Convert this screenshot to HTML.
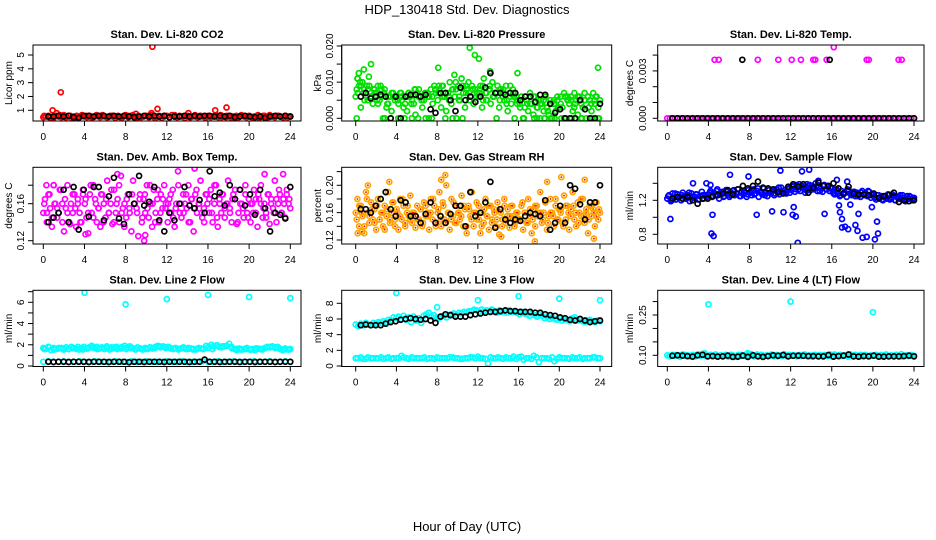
<!DOCTYPE html>
<html><head><meta charset="utf-8"><style>
html,body{margin:0;padding:0;background:#fff;}
svg{display:block;font-family:"Liberation Sans",sans-serif;}
</style></head><body>
<svg id="chart" width="936" height="540" viewBox="0 0 936 540" xmlns="http://www.w3.org/2000/svg">
<text x="467" y="14" text-anchor="middle" font-size="13">HDP_130418  Std. Dev. Diagnostics</text>
<text x="467" y="531" text-anchor="middle" font-size="13">Hour of Day (UTC)</text>
</svg>
<script>
// ---------- data ----------
const xTicks = [0,4,8,12,16,20,24];
// P1 CO2 (ppm)
const co2Red = [0.5,0.55,0.6,0.5,0.45,0.6,0.55,0.5,0.65,0.5,0.6,0.45,0.55,0.6,0.5,0.65,0.55,0.5,0.6,0.45,0.55,0.6,0.5,0.65,0.55,0.5,0.6,0.55,0.45,0.6,0.5,0.55,0.65,0.5,0.6,0.55,0.45,0.6,0.5,0.55,0.6,0.5,0.65,0.55,0.5,0.6,0.45,0.55,0.6,0.5,0.65,0.55,0.5,0.6,0.55,0.45,0.6,0.5,0.55,0.65,0.5,0.6,0.55,0.45,0.6,0.5,0.55,0.6,0.5,0.65,0.55,0.5,0.6,0.45,0.55,0.6,0.5,0.65,0.55,0.5,0.6,0.5,0.55,0.6,0.45,0.55,0.6,0.5,0.65,0.55,0.5,0.6,0.55,0.5,0.6,0.5,0.55];
const co2RedB = [0.6,0.5,0.55,0.65,0.5,0.6,0.5,0.55,0.6,0.5,0.65,0.55,0.5,0.6,0.55,0.5,0.6,0.65,0.5,0.55,0.6,0.5,0.55,0.6,0.5,0.65,0.55,0.6,0.5,0.55,0.6,0.5,0.55,0.65,0.5,0.6,0.55,0.5,0.6,0.55,0.5,0.65,0.6,0.5,0.55,0.6,0.5,0.55];
const co2OutHours = [0.9,1.3,1.7,10.6,11.1,14.1,16.7,17.8,9.0,10.5];
const co2OutVals = [1.0,0.8,2.3,5.6,1.1,0.8,1.0,1.2,0.75,0.8];
const co2Black = [0.55,0.55,0.6,0.55,0.6,0.5,0.45,0.6,0.6,0.55,0.6,0.6,0.55,0.6,0.55,0.6,0.55,0.5,0.55,0.6,0.55,0.6,0.55,0.6,0.5,0.55,0.55,0.6,0.55,0.6,0.55,0.6,0.6,0.55,0.6,0.55,0.6,0.5,0.55,0.6,0.55,0.5,0.55,0.45,0.55,0.6,0.55,0.6,0.55];
// P2 Pressure (1e-3 kPa)
const presGreen = [6,11,9,3,10,8,7,5,9,6,4,8,7,9,5,6,0,8,3,4,6,2,7,5,6,4,7,5,3,6,2,7,6,5,4,1,7,8,6,3,5,0,7,6,8,4,9,7,5,8,3,9,6,2,7,10,4,8,6,0,9,5,11,7,3,8,10,6,9,4,8,7,6,9,3,11,7,5,8,4,10,6,7,9,3,8,6,5,9,2,7,4,8,0,6,5,4,6,0,3,5,2,7,4,1,6,3,5,0,4,2,6,3,1,5,0,4,2,5,3,6,3,7,0,5,4,6,2,7,5,1,6,4,3,7,0,6,5,2,7,4,6,3,5];
const presGreenB = [8,10,7,9,6,8,5,9,7,4,0,6,5,7,0,6,4,8,0,5,7,6,0,8,7,9,0,6,8,10,5,0,9,7,8,6,8,5,7,9,6,0,8,7,5,9,6,4,5,0,4,6,0,3,5,0,2,4,0,3,0,6,5,0,4,6,0,5,3,0,6,0];
const presGreenC = [7,9,5,8,6,7,4,8,0,6,7,5,0,6,4,7,0,8,6,5,7,0,6,8,9,6,7,5,0,8,6,9,7,5,8,6,7,9,5,8,6,7,5,8,4,6,7,5,3,0,5,4,6,0,4,5,3,0,5,6,4,0,6,5,3,6,0,5,6,4,5,0];
const presOutHours = [0.2,0.3,0.8,1.5,1.3,8.1,11.2,11.7,12.1,23.8,13.2,9.7,15.9,0.1];
const presOutVals = [11,12.5,13.5,15,11.5,14,19.5,17.5,16.5,14,13,12,12.5,0];
const presBlack = [6,7,5.5,6,6.5,6,0,6,0,6,6.5,6.5,6,6.5,2.5,1.5,7,7,5,2,8.5,5,6,4.5,6,8.5,12.5,7,7,6.5,7,7,5,6,6,4.5,6.5,6.5,4,1.5,2.5,0,0,0,5,2.5,0,0,4];
// P3 Li-820 temp (1e-3 C)
const tempMag = [0,0,0,0,0,0,0,0,0,0,0,0,0,0,0,0,0,0,0,0,0,0,0,0,0,0,0,0,0,0,0,0,0,0,0,0,0,0,0,0,0,0,0,0,0,0,0,0,0,0,0,0,0,0,0,0,0,0,0,0,0,0,0,0,0,0,0,0,0,0,0,0,0,0,0,0,0,0,0,0,0,0,0,0,0,0,0,0,0,0,0,0,0,0,0,0,0];
const tempHighHours = [4.6,5.0,8.8,10.8,12.1,13.0,14.2,14.4,15.5,16.2,19.4,19.6,22.5,22.8];
const tempHighVals = [3.7,3.7,3.7,3.7,3.7,3.7,3.7,3.7,3.7,4.5,3.7,3.7,3.7,3.7];
const tempBlack = [0,0,0,0,0,0,0,0,0,0,0,0,0,0,0,0,0,0,0,0,0,0,0,0,0,0,0,0,0,0,0,0,0,0,0,0,0,0,0,0,0,0,0,0,0,0,0,0,0];
const tempBlackHighHours = [7.3,15.8];
const tempBlackHighVals = [3.7,3.7];
// P4 Amb box temp (0.01 C)
const ambMag = [15,16.5,14,17,15.5,13.5,18,16,14.5,15,17.5,16,13,15.5,18,14,16,15,17,13.5,16.5,15,14,17.5,16,14.5,12.8,17,15,18,16.5,14,15.5,13.5,17,16,14.5,18.5,15,16,13.8,17.5,15,16.5,14,19,15.5,16,14.5,17,15,13,18.5,16,15.5,12.5,17,14,16.5,15,18,14.5,16,13.5,17.5,15,16.5,14,17,15.5,18,16,14,16.5,15,17.5,13.5,16,19.5,15,14.5,17,16,15.5,18,14,16.5,13,17,15,16,18.5,14.5,15.5,17,16,15,17.5,14,16,18,13.5,16.5,15,17,14.5,16,18.5,15.5,14,17,16.5,13.8,15,17.5,16,14.5,18,15,16.5,14,16,17.5,15,13.5,16.5,18,14.5,16,15,17,13.8,16.5,15.5,18.5,14,16,17,15,16.5,14.5,17.5,16,15.5];
const ambMagB = [16,15,17,14.5,16,15.5,17.5,14,16.5,15,13.8,17,15.5,16,14,17,16.5,15,18,14.5,16,15.5,17,14,16.5,15,17.5,14,16,18,15,13.5,16.5,15.5,17,16,15,16.5,14.5,17,15.5,18,16,14,17.5,15,16.5,15.5,16,17,14.5,15.5,18,16,15,17,14,16.5,15.5,17.5,16,15,14,17,16.5,15,18,14.5,16,17,15.5,16,15,16.5,17.5,14,16,15.5,17,14.5,16,15,16.5,17,16,15.5,14.5,17,16,15,16.5,17.5,15,16,17,16.5];
const ambOutHours = [9.8,9.9,4.1,7.2,14.7,21.5,23.3,0.3,1.0];
const ambOutVals = [12,12.6,12.7,19.2,19.8,19.2,19.2,18,18];
const ambBlack = [14,14.5,15,17.5,14,17.8,13.2,17.5,14.6,17.8,17.8,14.2,16.8,18.8,14.4,13.8,17,16,19,15.8,16.2,17.8,14.2,13,15,14.2,16,17.8,15.8,15.5,16.4,15,19.5,16.8,17.2,15.8,18,16.5,17.5,15.8,17,14.8,17.5,15.5,13,15,14.8,14.4,17.8];
// P5 Gas stream RH (0.01 %)
const rhOrange = [16,18,14,17,15.5,13,19,16,14.5,17.5,15,16.5,13.5,18,15,16,14,17,15.5,19,14.5,16,17.5,15,16.5,13.5,18,15,17,14,16,15.5,18.5,14.5,16,13.8,17,15,16.5,14,17.5,15.5,16,13.5,18,15,17,14.5,16,19,14,17.5,15,20,16,13.5,18,15.5,14.5,17,16,15,18.5,14,16.5,13,17,15.5,19,14,16,15,17,13,16,14.5,18,15.5,13.5,17,15,16.5,14,17.5,12.8,16,15,18,14.5,16.5,13.8,17,15.5,14,16,15,15,17,13.5,16,14.5,18,15.5,13,16.5,14,17,15.5,19,14.5,16,17.5,13.5,15.5,18,16,14,17,15,16.5,16,14.5,18.5,15,17,13.5,16.5,19,15,14,17.5,16,15.5,18,14.5,16,13,17,15.5,16.5,14,17.5,15,16];
const rhOrangeB = [15,17,16,14,18,15.5,16.5,14.5,17,15,16,13.5,16.5,15,17.5,14,16,15.5,18,14.5,17,15,16,15.5,15,16.5,14.5,17,15.5,16,18,14,16.5,15,17,14.5,16,15,17.5,14.5,16,15.5,17,14,16.5,15,16,17.5,15,14,16.5,15.5,17,14.5,16,15,16.5,14,17,15.5,15.5,17,14.5,16,15,17.5,16,14.5,16.5,15,17,16,16,15,17.5,14.5,16,15.5,18,15,16.5,14,17,16,15.5,17,16,14.5,18,15.5,16.5,15,17,16,15.5,16.5];
const rhOutHours = [8.8,8.4,20.2,22.5,3.3,17.6,23.4,14.3,0.2,1.2,18.8,0.6];
const rhOutVals = [21.5,20.8,21.2,20.8,20.5,11.8,12.2,12.5,13,20,20.5,13.2];
const rhBlack = [16.5,16.5,16,17,18,19,16.5,15.5,17.8,17.5,15.5,15.5,14.5,15.8,17.5,14.5,15.5,14.5,15.8,17,17,14,19,15.5,16,17.5,20.5,13.8,16.5,15,14.5,15,14.8,15.5,16,15.8,15.5,17.8,13.5,14.5,17,14.5,20,19.5,17.2,15,17.5,17.5,20];
// P6 Sample flow (0.01 ml/min)
const flowBlue = [122,126,119,128,123,121,127,124,120,129,125,122,126,119,128,123,124,127,121,125,130,122,126,124,127,131,124,129,126,133,122,128,130,125,132,127,124,129,131,126,128,133,125,130,127,129,124,132,129,126,133,128,131,124,130,127,134,129,125,132,128,131,126,133,129,127,135,130,132,128,134,129,132,136,130,138,133,131,137,134,129,139,135,132,137,133,140,131,136,134,130,138,133,136,131,135,130,127,133,128,125,131,127,129,124,132,128,126,130,125,129,127,124,131,126,128,125,130,123,127,124,121,126,122,125,120,124,122,127,121,123,125,120,124,122,126,121,123,119,125,122,124,120,123];
const flowBlueB = [125,120,128,123,126,122,129,124,127,121,126,124,129,125,131,127,124,130,126,132,128,125,131,127,131,127,134,129,126,132,130,128,135,131,129,133,137,133,139,135,132,138,134,136,131,137,133,135,128,131,126,129,133,127,130,125,129,127,131,126,123,126,121,125,122,127,120,124,126,121,125,122];
const flowOutHours = [0.3,4.3,4.5,4.4,3.8,4.2,2.5,6.1,8.7,10.2,11,11.3,12.2,12.5,12.7,12.3,13.8,15.3,16.8,17,17,17.3,17.6,18.3,18.5,18.6,19.4,19,20.2,20.4,20.5,17.8,16.7,19.9,14.7,16.5,17.5,13.1,7.9];
const flowOutVals = [98,81,78,103,140,138,140,150,103,107,155,106,103,101,70,112,156,104,106,98,88,89,86,91,84,104,77,76,74,95,81,115,114,112,143,144,142,154,148];
const flowBlack = [122,124,122,124,120,116,122,122,125,126,128,132,127,133,137,134,137,142,135,134,133,130,128,136,139,136,139,129,135,141,137,137,140,134,128,136,128,127,127,126,128,123,125,126,129,118,120,119,120];
// P7 Line 2 flow (ml/min)
const l2Band = [1.7,1.6,1.8,1.5,1.7,1.6,1.65,1.7,1.55,1.75,1.6,1.8,1.7,1.6,1.55,1.7,1.8,1.65,1.75,1.9,1.7,1.8,1.65,1.75,1.6,1.7,1.55,1.65,1.75,1.6,1.7,1.8,1.9,1.75,1.85,1.7,1.6,1.75,1.65,1.55,1.7,1.6,1.75,1.65,1.8,1.9,1.75,1.85,1.7,1.8,1.65,1.6,1.7,1.55,1.65,1.75,1.6,1.7,1.65,1.6,1.55,1.7,1.65,1.6,1.9,1.8,2.0,1.85,1.95,1.8,1.75,1.85,1.9,2.1,1.7,1.6,1.5,1.65,1.55,1.6,1.7,1.55,1.6,1.5,1.65,1.6,1.55,1.7,1.8,1.75,1.85,1.7,1.8,1.6,1.5,1.65,1.55,1.6];
const l2BandB = [1.6,1.75,1.55,1.7,1.65,1.6,1.7,1.8,1.55,1.65,1.75,1.6,1.7,1.85,1.75,1.8,1.65,1.6,1.7,1.55,1.65,1.6,1.75,1.7,1.85,1.8,1.75,1.65,1.6,1.7,1.6,1.55,1.65,1.6,1.7,1.6,1.95,1.85,1.9,1.8,1.6,1.55,1.6,1.55,1.65,1.6,1.7,1.8,1.75,1.65,1.6,1.55];
const l2Low = [0.4,0.45,0.4,0.4,0.45,0.4,0.4,0.45,0.4,0.4,0.45,0.4,0.4,0.4,0.45,0.4,0.4,0.45,0.4,0.4,0.45,0.4,0.4,0.4,0.45,0.4,0.4,0.45,0.4,0.4,0.4,0.45,0.4,0.4,0.45,0.4,0.4,0.45,0.4,0.4,0.4,0.45,0.4,0.4,0.45,0.4,0.4,0.45,0.4];
const l2OutHours = [4,8,12,16,20,24];
const l2OutVals = [6.9,5.8,6.3,6.7,6.5,6.4];
const l2Black = [0.4,0.38,0.4,0.4,0.38,0.4,0.4,0.4,0.38,0.4,0.4,0.4,0.38,0.4,0.4,0.4,0.35,0.4,0.4,0.38,0.4,0.4,0.4,0.38,0.4,0.4,0.4,0.4,0.38,0.4,0.4,0.6,0.4,0.4,0.38,0.4,0.4,0.4,0.38,0.4,0.4,0.38,0.4,0.4,0.4,0.38,0.4,0.4,0.4];
// P8 Line 3 flow
const l3Black = [5.2,5.3,5.2,5.2,5.2,5.4,5.6,5.7,5.9,6.0,6.1,6.0,5.9,6.0,5.8,5.5,6.3,6.6,6.5,6.3,6.3,6.3,6.5,6.6,6.7,6.8,6.9,6.9,7.0,7.1,7.0,7.0,6.9,6.9,6.9,6.8,6.8,6.6,6.5,6.4,6.2,6.1,5.9,5.8,6.0,5.8,5.6,5.7,5.8];
const l3Band = [5.3,5.1,5.4,5.2,5.5,5.3,5.2,5.5,5.4,5.6,5.5,5.7,5.6,5.9,5.8,6.2,6.1,6.3,6.0,6.4,5.9,6.2,5.6,6.3,5.8,6.1,5.5,6.4,6.6,6.8,6.3,6.5,6.2,6.1,6.3,6.4,6.2,6.5,6.6,6.7,6.5,6.8,6.7,6.9,6.8,7.0,7.0,7.2,7.1,6.9,7.2,7.0,7.1,6.9,7.2,7.0,6.8,7.1,6.9,7.0,6.8,7.1,6.9,7.0,6.8,6.6,6.9,6.7,6.6,6.4,6.7,6.5,6.3,6.6,6.4,6.1,6.3,6.0,6.2,6.0,5.9,6.1,5.8,6.0,5.9,5.7,6.1,6.2,5.8,6.0,5.7,5.6,5.8,5.9,5.7,5.6,5.8,5.7];
const l3Low = [1.0,1.1,0.9,1.0,1.0,1.1,1.0,0.9,1.0,1.3,1.0,1.1,1.0,1.0,0.9,1.0,1.1,1.0,1.0,1.1,1.0,0.9,1.0,1.1,1.2,1.0,0.3,1.0,1.1,0.9,1.0,1.2,1.1,0.8,1.0,1.3,0.5,1.0,0.9,0.6,1.1,1.0,0.9,1.0,1.1,1.0,1.0,1.1,1.0];
const l3LowB = [1.0,0.9,1.1,1.0,1.0,0.9,1.1,1.0,1.0,1.1,0.9,1.0,1.0,1.1,1.0,0.9,1.0,1.0,1.1,1.0,0.9,1.0,1.1,1.0,1.0,0.9,1.1,1.0,1.0,1.1,1.0,0.9,1.2,1.0,0.9,1.1,1.0,1.0,1.1,0.9,1.0,1.0,1.1,1.0,0.9,1.0,1.1,1.0];
const l3OutHours = [4,8,12,16,20,24];
const l3OutVals = [9.3,7.5,8.4,8.9,8.6,8.4];
// P9 Line 4 flow (0.01 ml/min)
const l4Band = [10,9.6,10.2,9.8,10.1,9.5,10.3,9.9,10,9.7,10.2,9.6,10.4,9.8,10,10.5,9.7,10.1,9.9,10.3,9.6,10,9.8,10.2,9.5,10.1,9.9,9.4,10.2,9.8,10,9.7,10.3,10.5,9.6,10.1,9.9,10.2,9.7,10,9.8,10.3,9.6,10.1,10,9.8,10.4,9.7,10.2,9.9,10,9.6,10.1,9.8,10.3,9.7,10,9.5,10.2,9.9,10.1,9.7,10,9.8,10.3,9.6,10.1,9.9,10.2,9.7,10,9.5,10.3,9.8,10,9.6,10.2,9.9,10.1,9.7,10,9.8,10.2,9.6,10.1,9.9,10.3,9.7,10,9.8,10.2,9.6,10.4,9.9,10,9.7,10.1,9.8];
const l4BandB = [9.7,10.1,9.9,10.2,9.6,10,10.3,9.8,10.1,9.7,10,9.9,10.2,9.6,10.1,9.8,10,10.3,9.7,9.9,10.2,9.6,10,9.8,10.1,9.7,10.2,9.9,10,9.6,10.1,9.8,10.3,9.7,10,9.9,10.2,9.6,10.1,9.8,10,9.7,10.2,9.9,10.1,9.6,10,9.8];
const l4OutHours = [4,12,20,7.8,3.6];
const l4OutVals = [29,30,26,10.8,10.8];
const l4Black = [9.8,10,9.9,9.7,9.5,10,10.2,9.6,9.7,9.5,9.6,9.9,9.4,9.5,9.9,9.4,10,9.6,9.4,9.7,10,9.8,10.1,9.6,9.8,9.9,9.8,9.7,9.7,9.6,9.6,10.1,9.5,9.7,9.9,10.3,9.6,9.5,9.7,9.6,9.9,9.5,9.5,9.6,9.6,9.6,9.7,9.9,9.6];

// ---------- layout ----------
const NS = 'http://www.w3.org/2000/svg';
const svg = document.getElementById('chart');
function mk(tag, attrs, parent){const e=document.createElementNS(NS,tag);for(const k in attrs)e.setAttribute(k,attrs[k]);(parent||svg).appendChild(e);return e;}

const cols = [{bx0:33,bx1:301,h0:43.3,h24:290.3,ylab:12,tl:24},{bx0:341.7,bx1:611.7,h0:355.7,h24:600,ylab:321,tl:333},{bx0:657.7,bx1:924,h0:667.3,h24:914,ylab:633,tl:646}];
const rows = [{by0:45,by1:121},{by0:167.3,by1:244},{by0:290.3,by1:366.5}];

function panel(ci, ri, name, title, ylabel, v0, y0, v1, y1, ticks, tickLabels, series){
  const c = cols[ci], r = rows[ri];
  const g = mk('g', {});
  
  
  const xs = h => c.h0 + (h/24)*(c.h24-c.h0);
  const ys = v => y0 + (v - v0)*(y1 - y0)/(v1 - v0);
  const clip = 'clip-'+name;
  const cp = mk('clipPath', {id:clip}, g);
  mk('rect', {x:c.bx0, y:r.by0, width:c.bx1-c.bx0, height:r.by1-r.by0}, cp);
  const pts = mk('g', {'clip-path':'url(#'+clip+')'}, g);
  series.forEach(s => {
    const sg = mk('g', {}, pts);
    
    
    s.vals.forEach((v,i) => {
      const h = s.hours ? s.hours[i] : (s.start + i*(s.end - s.start)/(s.vals.length-1));
      const cx = xs(h), cy = ys(v);
      const pt = mk('circle', {cx:cx.toFixed(1), cy:cy.toFixed(1), r:2.5, fill:'none', stroke:s.color, 'stroke-width':1.7}, sg);
      
      
      if (s.inner) mk('circle', {cx:cx.toFixed(1), cy:cy.toFixed(1), r:0.9, fill:s.inner}, sg);
    });
  });
  const box = mk('rect', {x:c.bx0, y:r.by0, width:c.bx1-c.bx0, height:r.by1-r.by0, fill:'none', stroke:'#000', 'stroke-width':1}, g);
  
  
  const t = mk('text', {x:(c.bx0+c.bx1)/2, y:r.by0-7, 'text-anchor':'middle', 'font-size':11, 'font-weight':'bold'}, g);
  t.textContent = title;
  
  
  const xa = mk('g', {}, g);
  
  
  mk('line', {x1:xs(0), x2:xs(24), y1:r.by1, y2:r.by1, stroke:'#000'}, xa);
  xTicks.forEach(h => {
    mk('line', {x1:xs(h), x2:xs(h), y1:r.by1, y2:r.by1+5, stroke:'#000'}, xa);
    const tl = mk('text', {x:xs(h), y:r.by1+19, 'text-anchor':'middle', 'font-size':10}, xa);
    tl.textContent = h;
  });
  const ya = mk('g', {}, g);
  
  
  mk('line', {x1:c.bx0, x2:c.bx0, y1:ys(ticks[0]), y2:ys(ticks[ticks.length-1]), stroke:'#000'}, ya);
  ticks.forEach((v,i) => {
    const y = ys(v);
    mk('line', {x1:c.bx0-5, x2:c.bx0, y1:y, y2:y, stroke:'#000'}, ya);
    if (tickLabels[i]) {
      const tl = mk('text', {x:c.tl, y:y, 'text-anchor':'middle', 'font-size':10, transform:'rotate(-90 '+c.tl+' '+y+')'}, ya);
      tl.textContent = tickLabels[i];
    }
  });
  const ym = (r.by0+r.by1)/2;
  const yl = mk('text', {x:c.ylab, y:ym, 'text-anchor':'middle', 'font-size':10, transform:'rotate(-90 '+c.ylab+' '+ym+')'}, g);
  yl.textContent = ylabel;
  
  
}

const RED='#ff0000', GRN='#00e000', MAG='#ff00ff', ORG='#ffa500', BLU='#0000ff', CYN='#00ffff', BLK='#000000';

panel(0,0,'co2-panel','Stan. Dev. Li-820 CO2','Licor ppm',1,110.3,5,55,[1,2,3,4,5],['1','2','3','4','5'],[
 {name:'co2-red',vals:co2Red,start:0,end:24,color:RED},
 {name:'co2-red-b',vals:co2RedB,start:0.1,end:23.9,color:RED},
 {name:'co2-red-outliers',vals:co2OutVals,hours:co2OutHours,color:RED},
 {name:'co2-black',vals:co2Black,start:0.5,end:24,color:BLK}]);
panel(1,0,'pressure-panel','Stan. Dev. Li-820 Pressure','kPa',0,118.3,20,46,[0,5,10,15,20],['0.000','','0.010','','0.020'],[
 {name:'pressure-green',vals:presGreen,start:0,end:24,color:GRN},
 {name:'pressure-green-b',vals:presGreenB,start:0.1,end:23.9,color:GRN},
 {name:'pressure-green-c',vals:presGreenC,start:0.2,end:23.8,color:GRN},
 {name:'pressure-green-outliers',vals:presOutVals,hours:presOutHours,color:GRN},
 {name:'pressure-black',vals:presBlack,start:0.5,end:24,color:BLK}]);
panel(2,0,'temp-panel','Stan. Dev. Li-820 Temp.','degrees C',0,118.3,3,70.9,[0,1,2,3,4],['0.000','','','0.003',''],[
 {name:'temp-magenta',vals:tempMag,start:0,end:24,color:MAG},
 {name:'temp-magenta-high',vals:tempHighVals,hours:tempHighHours,color:MAG},
 {name:'temp-black',vals:tempBlack,start:0.5,end:24,color:BLK},
 {name:'temp-black-high',vals:tempBlackHighVals,hours:tempBlackHighHours,color:BLK}]);
panel(0,1,'ambbox-panel','Stan. Dev. Amb. Box Temp.','degrees C',12,240.7,16,203.7,[12,14,16,18],['0.12','','0.16',''],[
 {name:'ambbox-magenta',vals:ambMag,start:0,end:24,color:MAG},
 {name:'ambbox-magenta-b',vals:ambMagB,start:0.1,end:23.9,color:MAG},
 {name:'ambbox-magenta-outliers',vals:ambOutVals,hours:ambOutHours,color:MAG},
 {name:'ambbox-black',vals:ambBlack,start:0.5,end:24,color:BLK}]);
panel(1,1,'rh-panel','Stan. Dev. Gas Stream RH','percent',12,240,20,185.3,[12,14,16,18,20,22],['0.12','','0.16','','0.20',''],[
 {name:'rh-orange',vals:rhOrange,start:0,end:24,color:ORG,inner:RED},
 {name:'rh-orange-b',vals:rhOrangeB,start:0.1,end:23.9,color:ORG,inner:RED},
 {name:'rh-orange-outliers',vals:rhOutVals,hours:rhOutHours,color:ORG,inner:RED},
 {name:'rh-black',vals:rhBlack,start:0.5,end:24,color:BLK}]);
panel(2,1,'sampleflow-panel','Stan. Dev. Sample Flow','ml/min',120,200.3,80,234.3,[80,100,120,140],['0.8','','1.2',''],[
 {name:'sampleflow-blue',vals:flowBlue,start:0,end:24,color:BLU},
 {name:'sampleflow-blue-b',vals:flowBlueB,start:0.1,end:23.9,color:BLU},
 {name:'sampleflow-blue-outliers',vals:flowOutVals,hours:flowOutHours,color:BLU},
 {name:'sampleflow-black',vals:flowBlack,start:0.5,end:24,color:BLK}]);
panel(0,2,'line2-panel','Stan. Dev. Line 2 Flow','ml/min',0,366,6,302.3,[0,1,2,3,4,5,6,7],['0','','2','','4','','6',''],[
 {name:'line2-cyan-band',vals:l2Band,start:0,end:24,color:CYN},
 {name:'line2-cyan-band-b',vals:l2BandB,start:0.1,end:23.9,color:CYN},
 {name:'line2-cyan-low',vals:l2Low,start:0,end:24,color:CYN},
 {name:'line2-cyan-outliers',vals:l2OutVals,hours:l2OutHours,color:CYN},
 {name:'line2-black',vals:l2Black,start:0.5,end:24,color:BLK}]);
panel(1,2,'line3-panel','Stan. Dev. Line 3 Flow','ml/min',0,366,8,303.3,[0,2,4,6,8],['0','2','4','6','8'],[
 {name:'line3-cyan-band',vals:l3Band,start:0,end:24,color:CYN},
 {name:'line3-cyan-low',vals:l3Low,start:0,end:24,color:CYN},
 {name:'line3-cyan-low-b',vals:l3LowB,start:0.2,end:23.8,color:CYN},
 {name:'line3-cyan-outliers',vals:l3OutVals,hours:l3OutHours,color:CYN},
 {name:'line3-black',vals:l3Black,start:0.5,end:24,color:BLK}]);
panel(2,2,'line4-panel','Stan. Dev. Line 4 (LT) Flow','ml/min',10,355.3,25,315,[10,15,20,25,30],['0.10','','','0.25',''],[
 {name:'line4-cyan-band',vals:l4Band,start:0,end:24,color:CYN},
 {name:'line4-cyan-band-b',vals:l4BandB,start:0.2,end:23.8,color:CYN},
 {name:'line4-cyan-outliers',vals:l4OutVals,hours:l4OutHours,color:CYN},
 {name:'line4-black',vals:l4Black,start:0.5,end:24,color:BLK}]);
</script>
</body></html>
